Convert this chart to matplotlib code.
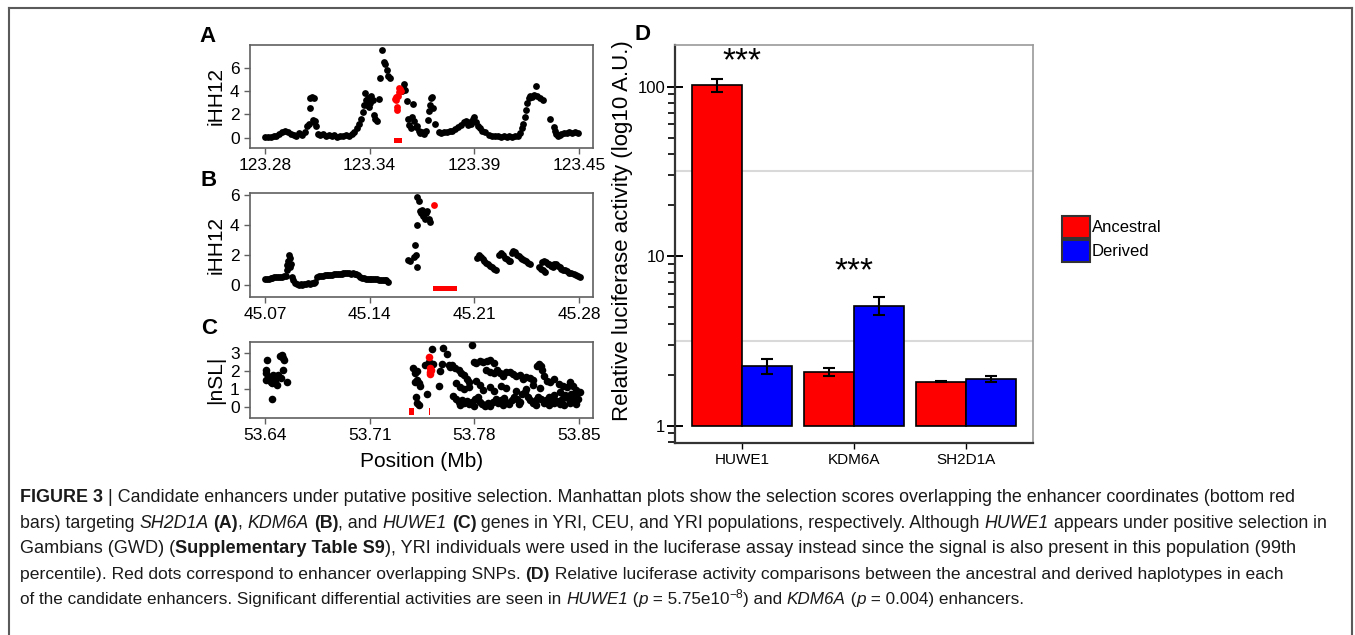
import matplotlib
matplotlib.use("Agg")
import matplotlib.pyplot as plt
from matplotlib.patches import Patch
from matplotlib.lines import Line2D
from matplotlib.ticker import FixedLocator, NullFormatter, LogLocator
import numpy as np

plt.rcParams['font.family'] = ['Liberation Sans', 'DejaVu Sans']

# ---------------- panel A : iHH12, SH2D1A enhancer region (YRI)
a_pos = [123.2800, 123.2815, 123.2830, 123.2845, 123.2860, 123.2875, 123.2890, 123.2905,
         123.2920, 123.2935, 123.2950, 123.2965, 123.2980, 123.2995, 123.3010, 123.3022,
         123.3030, 123.3035, 123.3038, 123.3045, 123.3050, 123.3055, 123.3060, 123.3065,
         123.3070, 123.3080, 123.3090, 123.3105, 123.3120, 123.3135, 123.3150, 123.3165,
         123.3180, 123.3195, 123.3210, 123.3225, 123.3240, 123.3255, 123.3270, 123.3285,
         123.3295, 123.3305, 123.3315, 123.3320, 123.3325, 123.3330, 123.3335, 123.3340,
         123.3345, 123.3350, 123.3358, 123.3365, 123.3372, 123.3380, 123.3390, 123.3398,
         123.3405, 123.3415, 123.3425, 123.3432, 123.3440, 123.3448, 123.3455, 123.3520,
         123.3525, 123.3530, 123.3535, 123.3545, 123.3552, 123.3558, 123.3565, 123.3572,
         123.3580, 123.3585, 123.3592, 123.3600, 123.3608, 123.3615, 123.3625, 123.3635,
         123.3645, 123.3655, 123.3662, 123.3668, 123.3675, 123.3680, 123.3685, 123.3695,
         123.3712, 123.3725, 123.3740, 123.3755, 123.3770, 123.3785, 123.3800, 123.3815,
         123.3830, 123.3845, 123.3855, 123.3865, 123.3875, 123.3885, 123.3893, 123.3900,
         123.3910, 123.3920, 123.3930, 123.3940, 123.3955, 123.3975, 123.3995, 123.4010,
         123.4025, 123.4040, 123.4055, 123.4070, 123.4085, 123.4100, 123.4115, 123.4130,
         123.4142, 123.4150, 123.4158, 123.4165, 123.4170, 123.4177, 123.4185, 123.4195,
         123.4205, 123.4215, 123.4223, 123.4230, 123.4245, 123.4262, 123.4300, 123.4318,
         123.4325, 123.4332, 123.4340, 123.4348, 123.4358, 123.4370, 123.4385, 123.4400,
         123.4415, 123.4430, 123.4445]
a_ihh = [0.05, 0.03, 0.05, 0.10, 0.15, 0.30, 0.50, 0.60,
         0.50, 0.30, 0.20, 0.10, 0.35, 0.20, 0.50, 1.00,
         1.20, 2.50, 3.40, 3.50, 1.50, 1.30, 3.40, 1.40,
         1.00, 0.30, 0.20, 0.30, 0.10, 0.20, 0.10, 0.20,
         0.05, 0.15, 0.10, 0.20, 0.10, 0.30, 0.50, 0.80,
         1.20, 1.60, 2.20, 2.80, 3.80, 3.20, 2.80, 3.40,
         2.60, 3.00, 3.60, 3.20, 1.90, 1.60, 1.40, 3.30,
         5.10, 7.50, 6.50, 6.30, 5.80, 5.30, 5.10, 4.00,
         4.30, 4.60, 4.10, 3.10, 1.60, 1.10, 0.80, 1.80,
         2.90, 1.40, 0.90, 1.00, 0.60, 0.40, 0.50, 0.30,
         0.60, 1.50, 2.30, 2.80, 3.40, 3.50, 2.50, 1.20,
         0.50, 0.40, 0.50, 0.50, 0.60, 0.60, 0.70, 0.90,
         1.10, 1.30, 1.40, 1.10, 1.30, 1.20, 1.60, 1.80,
         1.30, 1.00, 0.80, 0.60, 0.50, 0.20, 0.15, 0.10,
         0.10, 0.05, 0.10, 0.05, 0.10, 0.05, 0.10, 0.10,
         0.40, 0.80, 1.20, 1.80, 2.40, 3.00, 3.40, 3.60,
         3.50, 3.70, 4.40, 3.60, 3.40, 3.20, 1.60, 0.90,
         0.60, 0.30, 0.10, 0.20, 0.30, 0.35, 0.40, 0.45,
         0.40, 0.45, 0.40]
a_red_pos = [123.3485, 123.3488, 123.3490, 123.3493, 123.3496, 123.3500, 123.3503,
             123.3506, 123.3510, 123.3513]
a_red_ihh = [3.3, 3.5, 3.2, 2.6, 2.4, 3.6, 3.9, 4.3, 4.2, 4.0]
a_enh = (123.3480, 123.3520)
a_ticks = [123.28, 123.335, 123.39, 123.445]
a_ticklabels = ['123.28', '123.34', '123.39', '123.45']

# ---------------- panel B : iHH12, KDM6A enhancer region (CEU)
b_pos = [45.0700, 45.0712, 45.0725, 45.0738, 45.0750, 45.0763, 45.0775, 45.0788, 45.0800,
         45.0812, 45.0825, 45.0838, 45.0845, 45.0850, 45.0855, 45.0860, 45.0865, 45.0868,
         45.0872, 45.0880, 45.0890, 45.0900, 45.0912, 45.0925, 45.0938, 45.0950, 45.0962,
         45.0975, 45.0988, 45.1000, 45.1012, 45.1025, 45.1038, 45.1050, 45.1062, 45.1075,
         45.1088, 45.1100, 45.1112, 45.1125, 45.1138, 45.1150, 45.1162, 45.1175, 45.1188,
         45.1200, 45.1212, 45.1225, 45.1238, 45.1250, 45.1262, 45.1275, 45.1288, 45.1300,
         45.1312, 45.1325, 45.1338, 45.1350, 45.1362, 45.1375, 45.1388, 45.1400, 45.1412,
         45.1425, 45.1438, 45.1450, 45.1462, 45.1475, 45.1488, 45.1500, 45.1512, 45.1520,
         45.1654, 45.1671, 45.1694, 45.1705, 45.1708, 45.1716, 45.1716, 45.1720, 45.1730,
         45.1738, 45.1745, 45.1752, 45.1760, 45.1765, 45.1772, 45.1778, 45.1785, 45.1795,
         45.1805,
         45.2118, 45.2130, 45.2142, 45.2155, 45.2168, 45.2180, 45.2192, 45.2205, 45.2218,
         45.2230, 45.2245, 45.2268, 45.2280, 45.2292, 45.2305, 45.2318, 45.2330, 45.2341,
         45.2349, 45.2360, 45.2372, 45.2385, 45.2398, 45.2410, 45.2422, 45.2435, 45.2448,
         45.2460, 45.2472, 45.2531, 45.2545, 45.2558, 45.2570, 45.2553, 45.2565, 45.2578,
         45.2590, 45.2602, 45.2615, 45.2628, 45.2632, 45.2645, 45.2658, 45.2670, 45.2683,
         45.2695, 45.2708, 45.2720, 45.2735, 45.2750, 45.2765, 45.2780, 45.2795, 45.2808]
b_ihh = [0.35, 0.40, 0.40, 0.45, 0.45, 0.50, 0.50, 0.50, 0.50,
         0.50, 0.55, 0.60, 1.00, 1.30, 1.60, 2.00, 1.80, 1.20,
         1.40, 0.50, 0.30, 0.10, 0.05, 0.00, 0.05, 0.00, 0.05,
         0.05, 0.10, 0.05, 0.10, 0.10, 0.20, 0.50, 0.60, 0.60,
         0.60, 0.65, 0.65, 0.65, 0.65, 0.65, 0.70, 0.70, 0.70,
         0.70, 0.70, 0.75, 0.75, 0.75, 0.75, 0.70, 0.75, 0.70,
         0.70, 0.65, 0.50, 0.45, 0.45, 0.40, 0.40, 0.40, 0.35,
         0.35, 0.35, 0.35, 0.30, 0.30, 0.30, 0.30, 0.30, 0.15,
         1.65, 1.60, 1.85, 2.65, 1.95, 1.20, 4.00, 5.85, 5.55,
         4.90, 4.75, 5.00, 4.60, 4.85, 4.40, 4.80, 4.90, 4.40,
         4.20,
         1.75, 1.95, 1.85, 1.70, 1.55, 1.45, 1.35, 1.25, 1.15,
         1.05, 0.95, 2.00, 2.10, 1.95, 1.80, 1.70, 1.60, 1.55,
         2.10, 2.25, 2.15, 2.00, 1.90, 1.80, 1.70, 1.65, 1.55,
         1.45, 1.40, 1.20, 1.05, 0.95, 0.85, 1.50, 1.60, 1.50,
         1.40, 1.35, 1.25, 1.20, 1.35, 1.35, 1.25, 1.15, 1.05,
         1.00, 0.95, 0.90, 0.80, 0.75, 0.70, 0.65, 0.60, 0.50]
b_red_pos = [45.1830]
b_red_ihh = [5.3]
b_enh = (45.1821, 45.1984)
b_ticks = [45.07, 45.14, 45.21, 45.28]
b_ticklabels = ['45.07', '45.14', '45.21', '45.28']

# ---------------- panel C : |nSL|, HUWE1 enhancer region (YRI)
c_pos = [53.6405, 53.6407, 53.6416, 53.6410, 53.6425, 53.6433, 53.6440, 53.6445, 53.6450,
         53.6456, 53.6470, 53.6478, 53.6489, 53.6500, 53.6505, 53.6512, 53.6518, 53.6523,
         53.6525, 53.6545,
         53.7393, 53.7405, 53.7416, 53.7420, 53.7405, 53.7427, 53.7438, 53.7410, 53.7420,
         53.7431, 53.7483, 53.7472, 53.7488, 53.7516, 53.7499, 53.7527, 53.7561, 53.7572,
         53.7583, 53.7594, 53.7617, 53.7628, 53.7639,
         53.7650, 53.7672, 53.7695, 53.7710, 53.7728, 53.7751, 53.7768, 53.7784, 53.7795,
         53.7813, 53.7835, 53.7858, 53.7885, 53.7907, 53.7929, 53.7952, 53.7880, 53.7907,
         53.7929, 53.7970, 53.7992, 53.8014, 53.8036, 53.8059, 53.8081, 53.8103, 53.8126,
         53.8148, 53.8170, 53.8193, 53.8220, 53.8233, 53.8246, 53.8255, 53.8269, 53.8287,
         53.8309, 53.8336, 53.8365, 53.8394, 53.8421, 53.8438, 53.8461, 53.8483, 53.8505,
         53.7679, 53.7702, 53.7733, 53.7768, 53.7813, 53.7835, 53.7858, 53.7902, 53.7934,
         53.7978, 53.8014, 53.8081, 53.8148, 53.8193, 53.8242, 53.8331, 53.8376, 53.8447,
         53.7661, 53.7679, 53.7697, 53.7715, 53.7733, 53.7751, 53.7768, 53.7786, 53.7804,
         53.7822, 53.7835, 53.7853, 53.7871, 53.7889, 53.7907, 53.7925, 53.7943, 53.7961,
         53.7978, 53.7996, 53.8014, 53.8032, 53.8050, 53.8068, 53.8086, 53.8103, 53.8121,
         53.8139, 53.8157, 53.8175, 53.8193, 53.8211, 53.8228, 53.8246, 53.8264, 53.8282,
         53.8300, 53.8318, 53.8336, 53.8354, 53.8371, 53.8389, 53.8407, 53.8425, 53.8443,
         53.8461, 53.8478, 53.8496, 53.7706, 53.7795, 53.7880, 53.7990, 53.8100, 53.8210,
         53.8300, 53.8400, 53.8480]
c_nsl = [1.85, 2.04, 2.63, 1.48, 1.57, 1.67, 1.35, 0.43, 1.30,
         1.76, 1.48, 1.20, 1.76, 2.81, 1.57, 2.87, 2.70, 2.04,
         2.60, 1.39,
         2.13, 1.90, 2.00, 1.50, 1.40, 1.30, 1.15, 0.55, 0.20,
         0.10, 0.70, 2.30, 2.40, 3.20, 2.50, 2.40, 1.15, 2.00,
         2.40, 3.25, 2.95, 2.30, 2.20,
         2.31, 2.13, 2.04, 1.89, 1.76, 1.52, 1.39, 3.46, 2.50,
         2.41, 2.56, 2.50, 2.56, 2.59, 2.41, 2.04, 2.04, 1.94,
         1.85, 1.85, 1.70, 1.94, 1.94, 1.81, 1.70, 1.76, 1.52,
         1.67, 1.57, 1.48, 2.26, 2.37, 2.26, 2.07, 1.70, 1.44,
         1.39, 1.52, 1.26, 1.15, 1.07, 1.39, 1.15, 0.93, 0.83,
         1.30, 1.07, 0.96, 1.11, 1.44, 1.20, 0.93, 1.07, 0.89,
         1.15, 1.02, 0.89, 0.96, 1.20, 1.02, 0.65, 0.83, 0.70,
         0.59, 0.41, 0.28, 0.37, 0.22, 0.33, 0.15, 0.28, 0.41,
         0.56, 0.28, 0.15, 0.04, 0.22, 0.04, 0.28, 0.41, 0.22,
         0.37, 0.46, 0.28, 0.15, 0.37, 0.56, 0.41, 0.28, 0.70,
         0.83, 0.56, 0.37, 0.19, 0.37, 0.56, 0.41, 0.22, 0.37,
         0.52, 0.33, 0.19, 0.33, 0.15, 0.41, 0.65, 0.46, 0.22,
         0.37, 0.56, 0.44, 0.09, 0.04, 0.10, 0.08, 0.12, 0.06,
         0.10, 0.08, 0.12]
c_red_pos = [53.7494, 53.7503, 53.7507, 53.7507, 53.7512]
c_red_nsl = [2.78, 2.15, 1.95, 1.82, 2.05]
c_enh = [(53.7365, 53.7394), (53.7494, 53.7505)]
c_ticks = [53.64, 53.71, 53.78, 53.85]
c_ticklabels = ['53.64', '53.71', '53.78', '53.85']

# ---------------- panel D : luciferase assay
genes = ['HUWE1', 'KDM6A', 'SH2D1A']
ancestral = [102, 2.07, 1.82]
ancestral_err = [9, 0.11, 0.02]
derived = [2.24, 5.11, 1.88]
derived_err = [0.22, 0.60, 0.07]
signif = ['***', '***', '']

W, H = 1355, 635
fig = plt.figure(figsize=(W / 100, H / 100), dpi=100)


def box(x0, y0, x1, y1):
    return [x0 / W, 1 - y1 / H, (x1 - x0) / W, (y1 - y0) / H]


def manhattan(rect, pos, val, rpos, rval, enh, ticks, tlabels, xlim, ylim, yticks, ylabel, s):
    ax = fig.add_axes(rect)
    ax.scatter(pos, val, s=s, c='black', linewidths=0, zorder=3)
    ax.scatter(rpos, rval, s=s, c='#ff0000', linewidths=0, zorder=4)
    for e0, e1 in enh:
        ax.bar(e0, 0.38, width=e1 - e0, bottom=-0.45, align='edge', color='#ff0000', lw=0)
    ax.set_xlim(*xlim)
    ax.set_ylim(*ylim)
    ax.set_xticks(ticks)
    ax.set_xticklabels(tlabels)
    ax.set_yticks(yticks)
    for sp in ax.spines.values():
        sp.set_color('#606060')
        sp.set_linewidth(1.2)
    ax.tick_params(axis='x', direction='out', length=4, width=1, color='#606060',
                   labelsize=12.5, pad=3.5)
    ax.tick_params(axis='y', direction='out', length=4, width=1, color='#606060',
                   labelsize=12.5, pad=3.5)
    ax.set_ylabel(ylabel, fontsize=15, va='center')
    ax.yaxis.set_label_coords(-0.099, 0.5)
    return ax


axA = manhattan(box(250, 45, 593, 148), a_pos, a_ihh, a_red_pos, a_red_ihh, [a_enh],
                a_ticks, a_ticklabels, (123.2721, 123.4524), (-0.9, 7.96), [0, 2, 4, 6],
                'iHH12', 24)
axB = manhattan(box(250, 193, 593, 297), b_pos, b_ihh, b_red_pos, b_red_ihh, [b_enh],
                b_ticks, b_ticklabels, (45.06, 45.2894), (-0.83, 6.11), [0, 2, 4, 6],
                'iHH12', 24)
axC = manhattan(box(250, 342, 593, 418), c_pos, c_nsl, c_red_pos, c_red_nsl, c_enh,
                c_ticks, c_ticklabels, (53.63, 53.8594), (-0.64, 3.61), [0, 1, 2, 3],
                '|nSL|', 30)
axC.set_xlabel('Position (Mb)', fontsize=15, labelpad=6)

for lab, (px, py) in zip('ABC', [(208, 37), (209, 181), (209, 329)]):
    fig.text(px / W, 1 - py / H, lab, fontsize=16, fontweight='bold', ha='center', va='center')

# ---------------- bar chart
axD = fig.add_axes(box(675, 45, 1033, 443))
x = np.arange(len(genes))
w = 0.45
anc = np.array(ancestral)
der = np.array(derived)
for y in [10 ** 0.5, 10 ** 1.5]:
    axD.axhline(y, color='#d9d9d9', lw=1.5, zorder=0)
axD.bar(x - w / 2, anc - 1, width=w, bottom=1, color='#ff0000', edgecolor='black', lw=1.2, zorder=2)
axD.bar(x + w / 2, der - 1, width=w, bottom=1, color='#0000ff', edgecolor='black', lw=1.2, zorder=2)
axD.errorbar(x - w / 2, anc, yerr=ancestral_err, fmt='none', ecolor='black', elinewidth=1.5,
             capsize=4.3, capthick=1.5, zorder=3)
axD.errorbar(x + w / 2, der, yerr=derived_err, fmt='none', ecolor='black', elinewidth=1.5,
             capsize=4.3, capthick=1.5, zorder=3)
axD.set_yscale('log')
axD.set_ylim(0.79, 176)
axD.set_xlim(-0.6, 2.6)
axD.yaxis.set_major_locator(FixedLocator([1, 10, 100]))
axD.yaxis.set_major_formatter(plt.FixedFormatter(['1', '10', '100']))
axD.yaxis.set_minor_locator(LogLocator(base=10, subs=np.arange(2, 10)))
axD.yaxis.set_minor_formatter(NullFormatter())
axD.set_xticks(x)
axD.set_xticklabels(genes)
axD.tick_params(axis='y', which='major', direction='inout', length=12, width=1.4,
                labelsize=12, pad=1)
axD.tick_params(axis='y', which='minor', direction='out', length=5, width=1.2)
axD.tick_params(axis='x', direction='out', length=4, width=1, labelsize=11, pad=3)
axD.spines['left'].set_color('#333333')
axD.spines['left'].set_linewidth(1.6)
axD.spines['bottom'].set_color('#333333')
axD.spines['bottom'].set_linewidth(1.6)
axD.spines['top'].set_color('#9a9a9a')
axD.spines['right'].set_color('#9a9a9a')
axD.spines['top'].set_linewidth(1.2)
axD.spines['right'].set_linewidth(1.2)
for xi, lab, ys in zip(x, signif, [140, 8.1, 1]):
    if lab:
        axD.text(xi, ys, lab, fontsize=24, ha='center', va='center')
axD.set_ylabel('Relative luciferase activity (log10 A.U.)', fontsize=16, va='center')
axD.yaxis.set_label_coords(-0.148, 0.533)
fig.text(643 / W, 1 - 35 / H, 'D', fontsize=16, fontweight='bold', ha='center', va='center')

fig.legend(handles=[Patch(facecolor='#ff0000', edgecolor='#333333', lw=1.5, label='Ancestral'),
                    Patch(facecolor='#0000ff', edgecolor='#333333', lw=1.5, label='Derived')],
           loc='upper left', bbox_to_anchor=(1062 / W, 1 - 216 / H), frameon=False, fontsize=12,
           handlelength=1.65, handleheight=1.65, handletextpad=0.15, labelspacing=0.12,
           borderpad=0, borderaxespad=0)

# ---------------- outer frame
for xs, ys in [([9, 1352], [8, 8]), ([9, 9], [8, 640]), ([1352, 1352], [8, 640])]:
    fig.add_artist(Line2D([v / W for v in xs], [1 - v / H for v in ys], color='#5a5a5a', lw=1.5))

# ---------------- caption
renderer = fig.canvas.get_renderer()


def seg_width(txt, kw):
    t1 = fig.text(0, 0, 'x' + txt + 'x', **kw)
    t0 = fig.text(0, 0, 'xx', **kw)
    wdt = t1.get_window_extent(renderer).width - t0.get_window_extent(renderer).width
    t1.remove()
    t0.remove()
    return wdt


caption = [
    [('FIGURE 3 ', 'b'), ('| Candidate enhancers under putative positive selection. Manhattan plots show '
                          'the selection scores overlapping the enhancer coordinates (bottom red', 'n')],
    [('bars) targeting ', 'n'), ('SH2D1A', 'i'), (' ', 'n'), ('(A)', 'b'), (', ', 'n'), ('KDM6A', 'i'),
     (' ', 'n'), ('(B)', 'b'), (', and ', 'n'), ('HUWE1', 'i'), (' ', 'n'), ('(C)', 'b'),
     (' genes in YRI, CEU, and YRI populations, respectively. Although ', 'n'), ('HUWE1', 'i'),
     (' appears under positive selection in', 'n')],
    [('Gambians (GWD) (', 'n'), ('Supplementary Table S9', 'b'),
     ('), YRI individuals were used in the luciferase assay instead since the signal is also present '
      'in this population (99th', 'n')],
    [('percentile). Red dots correspond to enhancer overlapping SNPs. ', 'n'), ('(D)', 'b'),
     (' Relative luciferase activity comparisons between the ancestral and derived haplotypes in each', 'n')],
    [('of the candidate enhancers. Significant differential activities are seen in ', 'n'), ('HUWE1', 'i'),
     (' (', 'n'), ('p', 'i'), (' = 5.75e10', 'n'), ('\u22128', 's'), (') and ', 'n'), ('KDM6A', 'i'),
     (' (', 'n'), ('p', 'i'), (' = 0.004) enhancers.', 'n')],
]
line_y = [502, 528, 553, 579, 604]
line_size = [12.85, 12.8, 13.1, 12.6, 12.3]

for segs, yb, cap_size in zip(caption, line_y, line_size):
    xp = 20
    for txt, sty in segs:
        kw = dict(fontsize=cap_size, color='#1a1a1a')
        dy = 0
        if sty == 'b':
            kw['fontweight'] = 'bold'
        elif sty == 'i':
            kw['fontstyle'] = 'italic'
        elif sty == 's':
            kw['fontsize'] = cap_size * 0.7
            dy = 6
        fig.text(xp / W, 1 - (yb - dy) / H, txt, ha='left', va='baseline', **kw)
        xp += seg_width(txt, kw)

fig.savefig('out.png', dpi=100)
